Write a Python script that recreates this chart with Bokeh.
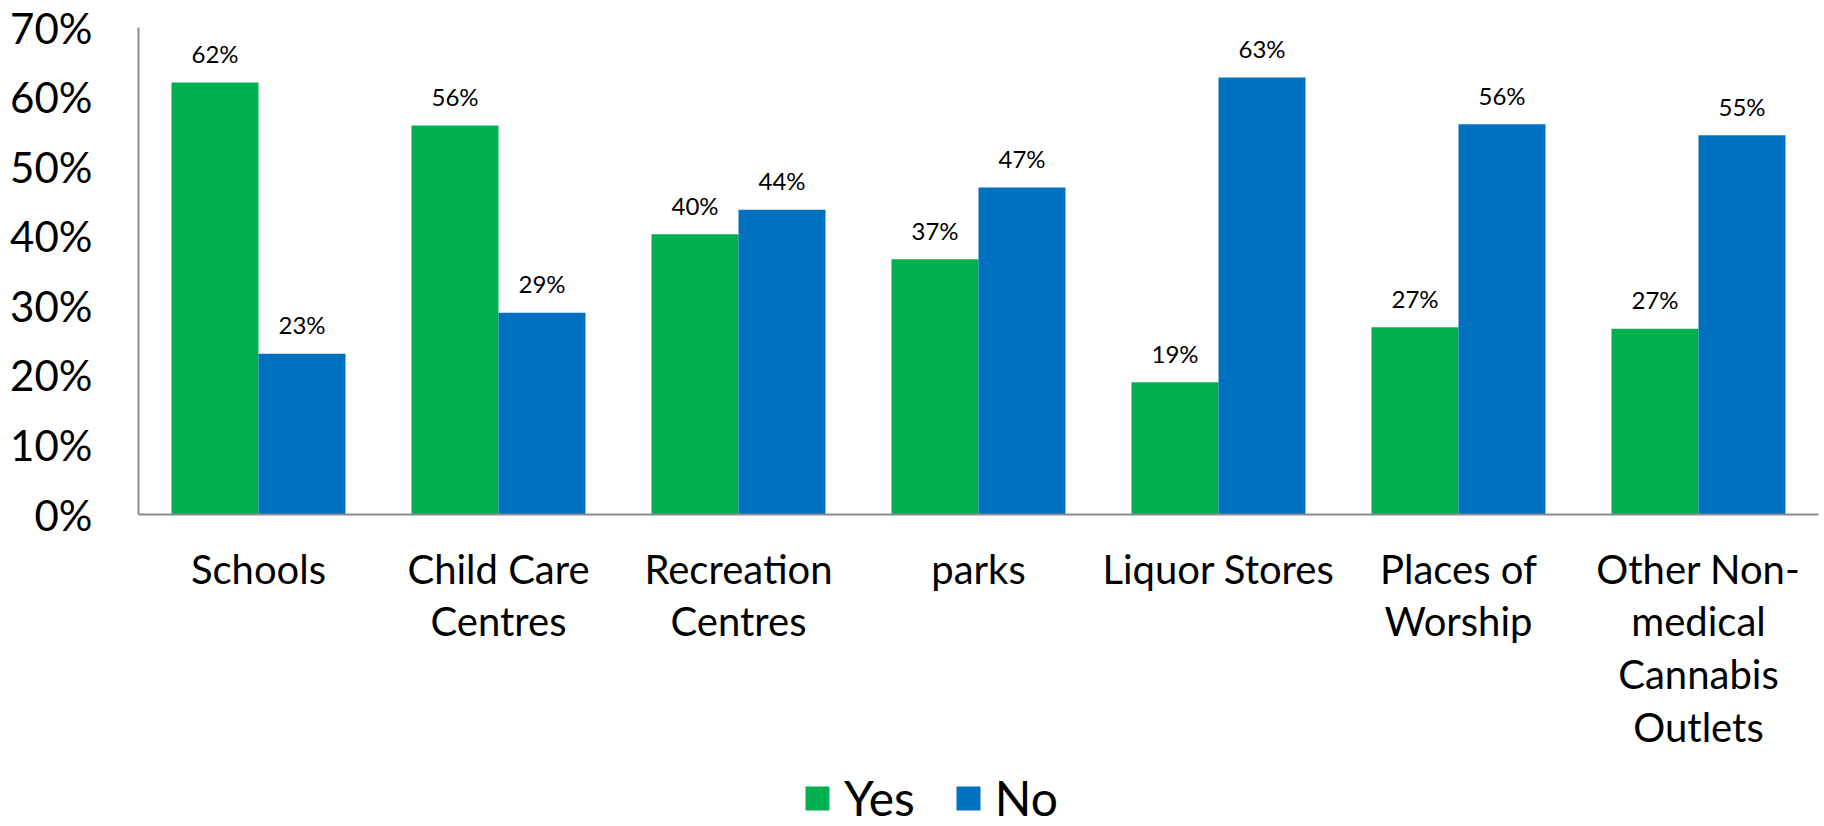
from bokeh.plotting import figure
from bokeh.layouts import column
from bokeh.models import (FactorRange, Range1d, NumeralTickFormatter, Legend, LegendItem,
                          ColumnDataSource, FixedTicker)
from bokeh.transform import dodge
from bokeh.core.properties import value
from bokeh.embed import file_html
from bokeh.resources import INLINE

categories = ["Schools", "Child Care\nCentres", "Recreation\nCentres", "parks",
              "Liquor Stores", "Places of\nWorship", "Other Non-\nmedical\nCannabis\nOutlets"]
yes_vals = [0.621, 0.559, 0.403, 0.367, 0.190, 0.269, 0.267]
no_vals = [0.231, 0.290, 0.438, 0.470, 0.628, 0.561, 0.545]
y_ticks = [0.0, 0.1, 0.2, 0.3, 0.4, 0.5, 0.6, 0.7]
series_names = ["Yes", "No"]

FONT = "Lato"
GREEN = "#00B050"
BLUE = "#0070C0"
AXIS = "#8c8c8c"

src = ColumnDataSource(dict(
    cat=categories,
    yes=yes_vals,
    no=no_vals,
    yes_lbl=[f"{round(v * 100)}%" for v in yes_vals],
    no_lbl=[f"{round(v * 100)}%" for v in no_vals],
))

p = figure(x_range=FactorRange(factors=categories), y_range=Range1d(0, 0.7),
           width=1824, height=770, output_backend="svg", toolbar_location=None,
           min_border_left=138, min_border_right=6, min_border_top=27, min_border_bottom=256)

bw = 0.3625
p.vbar(x=dodge("cat", -bw / 2, range=p.x_range), top="yes", width=bw, source=src,
       fill_color=GREEN, line_color=None)
p.vbar(x=dodge("cat", bw / 2, range=p.x_range), top="no", width=bw, source=src,
       fill_color=BLUE, line_color=None)

p.text(x=dodge("cat", -bw / 2, range=p.x_range), y="yes", text="yes_lbl", source=src,
       text_font=value(FONT), text_font_size="24px", text_color="#000000",
       text_align="center", text_baseline="alphabetic", y_offset=-29)
p.text(x=dodge("cat", bw / 2, range=p.x_range), y="no", text="no_lbl", source=src,
       text_font=value(FONT), text_font_size="24px", text_color="#000000",
       text_align="center", text_baseline="alphabetic", y_offset=-29)

p.xgrid.visible = False
p.ygrid.visible = False
p.outline_line_color = None
p.background_fill_color = "white"
p.border_fill_color = "white"

# y axis
p.yaxis.ticker = FixedTicker(ticks=y_ticks)
p.yaxis.formatter = NumeralTickFormatter(format="0%")
p.yaxis.major_label_text_font = FONT
p.yaxis.major_label_text_font_size = "42px"
p.yaxis.major_label_text_color = "#000000"
p.yaxis.major_tick_line_color = None
p.yaxis.minor_tick_line_color = None
p.yaxis.major_tick_out = 0
p.yaxis.major_tick_in = 0
p.yaxis.major_label_standoff = 46
p.yaxis.axis_line_color = AXIS
p.yaxis.axis_line_width = 2

# x axis
p.xaxis.major_label_text_font = FONT
p.xaxis.major_label_text_font_size = "40px"
p.xaxis.major_label_text_color = "#000000"
p.xaxis.major_label_text_line_height = 1.1
p.xaxis.major_tick_line_color = None
p.xaxis.major_tick_out = 0
p.xaxis.major_tick_in = 0
p.xaxis.major_label_standoff = 30
p.xaxis.axis_line_color = AXIS
p.xaxis.axis_line_width = 2

# legend strip below the chart (its bars fall outside its view; only the legend shows)
lg = figure(x_range=FactorRange(factors=categories), y_range=Range1d(10, 11),
            width=1824, height=56, output_backend="svg", toolbar_location=None,
            x_axis_location=None, y_axis_location=None,
            min_border_left=0, min_border_right=0, min_border_top=0, min_border_bottom=0)
lg.xgrid.visible = False
lg.ygrid.visible = False
lg.outline_line_color = None
lg.background_fill_color = "white"
lg.border_fill_color = "white"
ly = lg.vbar(x=dodge("cat", -bw / 2, range=lg.x_range), top="yes", width=bw, source=src,
             fill_color=GREEN, line_color=None)
ln = lg.vbar(x=dodge("cat", bw / 2, range=lg.x_range), top="no", width=bw, source=src,
             fill_color=BLUE, line_color=None)

legend = Legend(items=[LegendItem(label=series_names[0], renderers=[ly], index=0),
                       LegendItem(label=series_names[1], renderers=[ln], index=0)],
                orientation="horizontal", location=(664, 0),
                glyph_width=30, glyph_height=30, label_standoff=12, spacing=38,
                label_text_font=FONT, label_text_font_size="48px", label_text_color="#000000",
                padding=0, margin=0, border_line_color=None, background_fill_alpha=0)
lg.add_layout(legend, "center")

layout = column(p, lg, spacing=0)
open("out.html", "w").write(file_html(layout, INLINE))
